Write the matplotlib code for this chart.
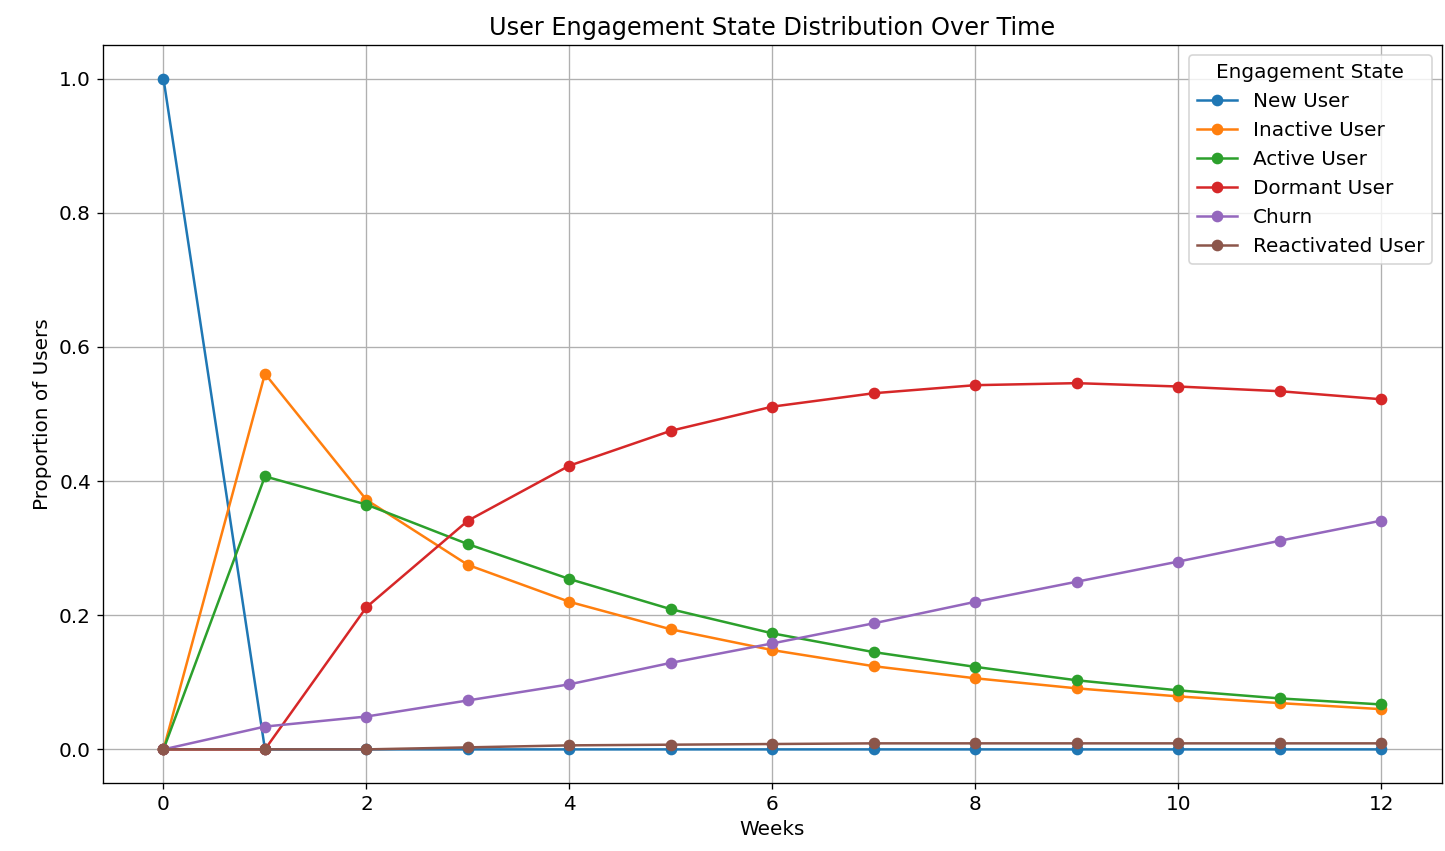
import numpy as np
import matplotlib.pyplot as plt

weeks = list(range(13))

new_user = [1.0, 0.0, 0.0, 0.0, 0.0, 0.0, 0.0, 0.0, 0.0, 0.0, 0.0, 0.0, 0.0]
inactive_user = [0.0, 0.56, 0.372, 0.275, 0.22, 0.179, 0.148, 0.124, 0.106, 0.091, 0.079, 0.069, 0.06]
active_user = [0.0, 0.407, 0.365, 0.306, 0.254, 0.209, 0.173, 0.145, 0.123, 0.103, 0.088, 0.076, 0.067]
dormant_user = [0.0, 0.0, 0.212, 0.341, 0.423, 0.475, 0.511, 0.531, 0.543, 0.546, 0.541, 0.534, 0.522]
churn = [0.0, 0.034, 0.049, 0.073, 0.097, 0.129, 0.158, 0.188, 0.22, 0.25, 0.28, 0.311, 0.341]
reactivated_user = [0.0, 0.0, 0.0, 0.003, 0.006, 0.007, 0.008, 0.009, 0.009, 0.009, 0.009, 0.009, 0.009]

series = {
    'New User': new_user,
    'Inactive User': inactive_user,
    'Active User': active_user,
    'Dormant User': dormant_user,
    'Churn': churn,
    'Reactivated User': reactivated_user,
}

plt.rcParams['font.size'] = 12

fig, ax = plt.subplots(figsize=(1445 / 120, 851 / 120), dpi=120)
for name, vals in series.items():
    ax.plot(weeks, vals, marker='o', label=name)

ax.set_title('User Engagement State Distribution Over Time')
ax.set_xlabel('Weeks')
ax.set_ylabel('Proportion of Users')
ax.legend(title='Engagement State')
ax.grid(True)
fig.subplots_adjust(left=0.071, right=0.998, top=0.947, bottom=0.08)
fig.savefig('out.png', dpi=120)
